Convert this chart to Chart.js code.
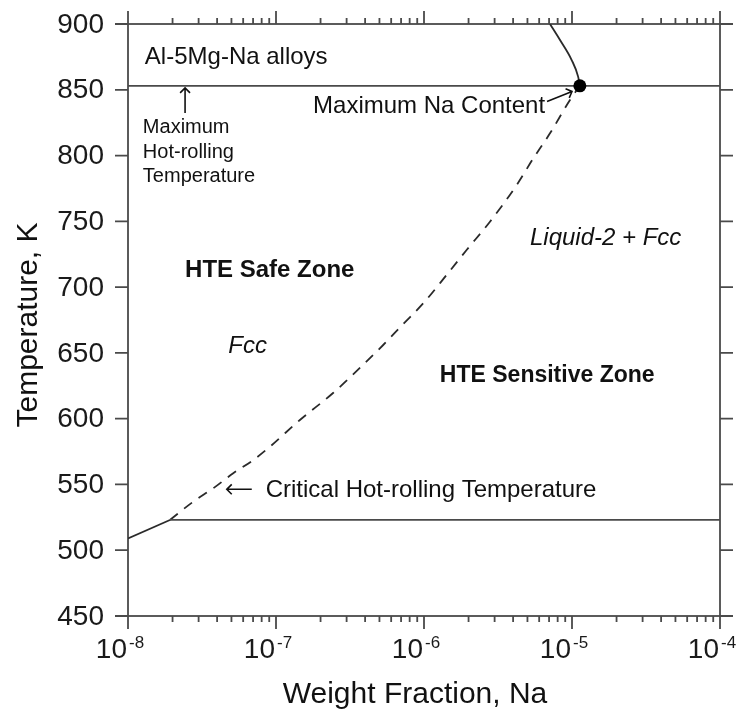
<!DOCTYPE html>
<html>
<head>
<meta charset="utf-8">
<script src="https://cdn.jsdelivr.net/npm/chart.js@4/dist/chart.umd.min.js"></script>
<style>
  html, body { margin: 0; padding: 0; background: #fff; }
  canvas { display: block; }
</style>
</head>
<body>
<canvas id="chart" width="746" height="715"></canvas>
<script>
// Temperature axis ticks (K)
const tempTicks = [450, 500, 550, 600, 650, 700, 750, 800, 850, 900];
// Decades of Na weight fraction on the x axis (powers of ten)
const decadeExponents = [-8, -7, -6, -5, -4];

// Maximum hot-rolling temperature (K)
const maxHotRollingLine = [{ x: 1e-8, y: 853 }, { x: 1e-4, y: 853 }];
// Critical hot-rolling temperature (K)
const criticalLine = [{ x: 1.92e-8, y: 523 }, { x: 1e-4, y: 523 }];
// Solid boundary below the critical hot-rolling temperature
const lowBoundary = [{ x: 1e-8, y: 509 }, { x: 1.92e-8, y: 523 }];
// Fcc / Liquid-2 + Fcc boundary between the two hot-rolling temperatures
const dashedBoundary = [
  { x: 1.92e-8, y: 523 },
  { x: 2.76e-8, y: 536.9 },
  { x: 3.77e-8, y: 547.1 },
  { x: 5.14e-8, y: 558.5 },
  { x: 7.03e-8, y: 568.6 },
  { x: 9.10e-8, y: 578.7 },
  { x: 1.45e-7, y: 599.0 },
  { x: 2.43e-7, y: 619.5 },
  { x: 3.99e-7, y: 642.3 },
  { x: 5.30e-7, y: 656.0 },
  { x: 7.24e-7, y: 672.0 },
  { x: 9.89e-7, y: 687.7 },
  { x: 1.42e-6, y: 709.2 },
  { x: 1.94e-6, y: 728.2 },
  { x: 2.79e-6, y: 749.7 },
  { x: 4.23e-6, y: 777.6 },
  { x: 5.48e-6, y: 797.9 },
  { x: 7.10e-6, y: 816.9 },
  { x: 9.69e-6, y: 842.2 },
  { x: 1.13e-5, y: 853 }
];
// Boundary above the maximum hot-rolling temperature
const upperBoundary = [
  { x: 7.10e-6, y: 900 },
  { x: 8.30e-6, y: 887.8 },
  { x: 9.95e-6, y: 872.6 },
  { x: 1.10e-5, y: 860.0 },
  { x: 1.13e-5, y: 853 }
];
// Maximum Na content
const maxNaPoint = [{ x: 1.13e-5, y: 853 }];

const FONT = '"Liberation Sans", Arial, Helvetica, sans-serif';
const AXIS_COLOR = '#4a4a4a';
const LINE_COLOR = '#2a2a2a';
const TEXT_COLOR = '#111';

// Text labels placed in data coordinates (left edge, baseline)
const notes = [
  { text: 'Al-5Mg-Na alloys', x: 1.30e-8, y: 869.6, font: '24px ' + FONT },
  { text: 'Maximum', x: 1.26e-8, y: 817.1, font: '20px ' + FONT },
  { text: 'Hot-rolling', x: 1.26e-8, y: 798.1, font: '20px ' + FONT },
  { text: 'Temperature', x: 1.26e-8, y: 779.9, font: '20px ' + FONT },
  { text: 'Maximum Na Content', x: 1.78e-7, y: 832.3, font: '24px ' + FONT },
  { text: 'Liquid-2 + Fcc', x: 5.20e-6, y: 732.0, font: 'italic 24px ' + FONT },
  { text: 'HTE Safe Zone', x: 2.43e-8, y: 707.5, font: 'bold 24px ' + FONT },
  { text: 'Fcc', x: 4.76e-8, y: 650.2, font: 'italic 24px ' + FONT },
  { text: 'HTE Sensitive Zone', x: 1.28e-6, y: 628.1, font: 'bold 23px ' + FONT },
  { text: 'Critical Hot-rolling Temperature', x: 8.51e-8, y: 540.7, font: '24px ' + FONT }
];

// Pointer arrows (tail -> head) in data coordinates
const arrows = [
  { from: [2.43e-8, 832.3], to: [2.43e-8, 851.4] },
  { from: [6.86e-8, 546.3], to: [4.65e-8, 546.3] },
  { from: [6.78e-6, 841.1], to: [1.0e-5, 848.7] }
];

const framePlugin = {
  id: 'frame',
  beforeDraw(chart) {
    const ctx = chart.ctx;
    ctx.save();
    ctx.fillStyle = '#fff';
    ctx.fillRect(0, 0, chart.width, chart.height);
    ctx.restore();
  },
  beforeDatasetsDraw(chart) {
    const { ctx, chartArea: a, scales } = chart;
    const xs = scales.x, ys = scales.y;
    ctx.save();
    ctx.strokeStyle = AXIS_COLOR;
    ctx.lineWidth = 1.8;
    ctx.strokeRect(a.left, a.top, a.right - a.left, a.bottom - a.top);

    ctx.beginPath();
    // temperature ticks on left and right, pointing outward
    tempTicks.forEach(t => {
      const py = ys.getPixelForValue(t);
      ctx.moveTo(a.left - 13, py); ctx.lineTo(a.left, py);
      ctx.moveTo(a.right, py); ctx.lineTo(a.right + 13, py);
    });
    // decade and minor ticks on bottom and top, pointing outward
    decadeExponents.forEach(e => {
      const px = xs.getPixelForValue(Math.pow(10, e));
      ctx.moveTo(px, a.bottom); ctx.lineTo(px, a.bottom + 13);
      ctx.moveTo(px, a.top); ctx.lineTo(px, a.top - 13);
      if (e < decadeExponents[decadeExponents.length - 1]) {
        for (let m = 2; m <= 9; m++) {
          const mx = xs.getPixelForValue(m * Math.pow(10, e));
          ctx.moveTo(mx, a.bottom); ctx.lineTo(mx, a.bottom + 6);
          ctx.moveTo(mx, a.top); ctx.lineTo(mx, a.top - 6);
        }
      }
    });
    ctx.stroke();
    ctx.restore();
  },
  afterDatasetsDraw(chart) {
    const { ctx, chartArea: a, scales } = chart;
    const xs = scales.x, ys = scales.y;
    ctx.save();
    ctx.fillStyle = '#1a1a1a';

    // temperature tick labels
    ctx.font = '28px ' + FONT;
    ctx.textAlign = 'right';
    ctx.textBaseline = 'middle';
    tempTicks.forEach(t => {
      ctx.fillText(String(t), a.left - 24, ys.getPixelForValue(t) + 1);
    });

    // decade labels: 10 with a raised exponent
    ctx.textBaseline = 'alphabetic';
    decadeExponents.forEach(e => {
      const px = xs.getPixelForValue(Math.pow(10, e));
      ctx.font = '28px ' + FONT;
      ctx.textAlign = 'right';
      ctx.fillText('10', px - 1, a.bottom + 42);
      ctx.font = '17px ' + FONT;
      ctx.textAlign = 'left';
      ctx.fillText(String(e), px + 1, a.bottom + 32);
    });

    // axis titles
    ctx.fillStyle = TEXT_COLOR;
    ctx.font = '30px ' + FONT;
    ctx.textAlign = 'center';
    ctx.fillText('Weight Fraction, Na', (a.left + a.right) / 2 - 9, a.bottom + 87);
    ctx.save();
    ctx.translate(37, (a.top + a.bottom) / 2 + 5);
    ctx.rotate(-Math.PI / 2);
    ctx.fillText('Temperature, K', 0, 0);
    ctx.restore();

    // region and line labels
    ctx.textAlign = 'left';
    notes.forEach(n => {
      ctx.font = n.font;
      ctx.fillText(n.text, xs.getPixelForValue(n.x), ys.getPixelForValue(n.y));
    });

    // pointer arrows
    ctx.strokeStyle = TEXT_COLOR;
    ctx.lineWidth = 1.6;
    arrows.forEach(ar => {
      const x0 = xs.getPixelForValue(ar.from[0]), y0 = ys.getPixelForValue(ar.from[1]);
      const x1 = xs.getPixelForValue(ar.to[0]), y1 = ys.getPixelForValue(ar.to[1]);
      const ang = Math.atan2(y1 - y0, x1 - x0);
      const h = 7;
      ctx.beginPath();
      ctx.moveTo(x0, y0); ctx.lineTo(x1, y1);
      ctx.moveTo(x1 - h * Math.cos(ang - Math.PI / 4), y1 - h * Math.sin(ang - Math.PI / 4));
      ctx.lineTo(x1, y1);
      ctx.lineTo(x1 - h * Math.cos(ang + Math.PI / 4), y1 - h * Math.sin(ang + Math.PI / 4));
      ctx.stroke();
    });
    ctx.restore();
  }
};

const lineStyle = { showLine: true, pointRadius: 0, fill: false, borderWidth: 1.8 };

new Chart(document.getElementById('chart'), {
  type: 'scatter',
  data: {
    datasets: [
      // drawn last (lowest order) so the marker sits on top of the lines
      { label: 'Maximum Na content', data: maxNaPoint, order: -1, pointRadius: 6.5, pointHoverRadius: 6.5,
        pointBorderWidth: 0, backgroundColor: '#000', borderColor: '#000', showLine: false },
      Object.assign({ label: 'Maximum hot-rolling temperature', data: maxHotRollingLine, borderColor: AXIS_COLOR }, lineStyle),
      Object.assign({ label: 'Critical hot-rolling temperature', data: criticalLine, borderColor: AXIS_COLOR }, lineStyle),
      Object.assign({ label: 'Low boundary', data: lowBoundary, borderColor: LINE_COLOR }, lineStyle),
      Object.assign({ label: 'Fcc boundary', data: dashedBoundary, borderColor: LINE_COLOR, borderDash: [10, 8], cubicInterpolationMode: 'monotone' }, lineStyle),
      Object.assign({ label: 'Upper boundary', data: upperBoundary, borderColor: LINE_COLOR, cubicInterpolationMode: 'monotone' }, lineStyle)
    ]
  },
  options: {
    responsive: false,
    animation: false,
    events: [],
    layout: { padding: { left: 128, right: 26, top: 24, bottom: 99 } },
    plugins: { legend: { display: false }, tooltip: { enabled: false } },
    scales: {
      x: { type: 'logarithmic', min: 1e-8, max: 1e-4, display: false },
      y: { type: 'linear', min: 450, max: 900, display: false }
    }
  },
  plugins: [framePlugin]
});
</script>
</body>
</html>
